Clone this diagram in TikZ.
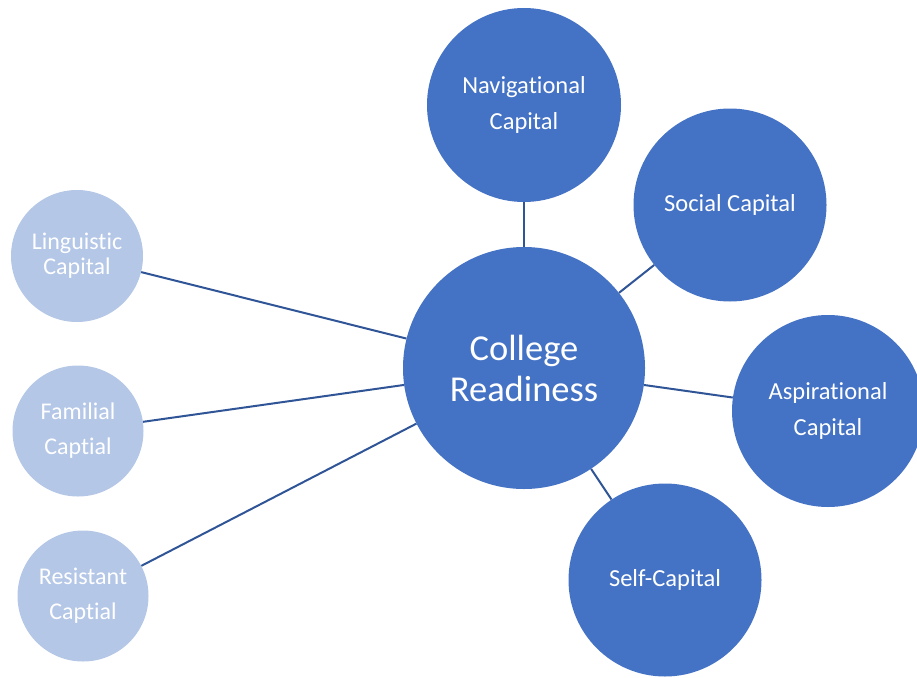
\documentclass[tikz,border=0pt]{standalone}
\usepackage{fontspec}
\setmainfont{Carlito}[Ligatures={NoCommon}]
\definecolor{capdark}{HTML}{4472C4}
\definecolor{caplight}{HTML}{B4C7E7}
\definecolor{linkcol}{HTML}{2F5597}
\begin{document}
\begin{tikzpicture}[x=1pt,y=-1pt,
  bigcap/.style={circle,fill=capdark,draw=none,inner sep=0pt,text=white,align=center,font=\fontsize{24.5}{36}\selectfont},
  smallcap/.style={circle,fill=caplight,draw=none,inner sep=0pt,text=white,align=center,font=\fontsize{24}{35}\selectfont},
  link/.style={draw=linkcol,line width=2pt}]
\clip (0,0) rectangle (917,677);
\useasboundingbox (0,0) rectangle (917,677);
% hub
\node[bigcap,minimum size=242pt,font=\fontsize{36.5}{41}\selectfont] (hub) at (524,368) {College\\Readiness};
% dark circles
\node[bigcap,minimum size=194pt] (nav) at (524,105) {Navigational\\Capital};
\node[bigcap,minimum size=193pt] (soc) at (730,205) {Social Capital};
\node[bigcap,minimum size=192pt] (asp) at (828,411) {Aspirational\\Capital};
\node[bigcap,minimum size=193pt] (self) at (665,580) {Self-Capital};
% light circles
\node[smallcap,minimum size=132pt,font=\fontsize{24}{25}\selectfont] (ling) at (77,256) {Linguistic\\Capital};
\node[smallcap,minimum size=131pt] (fam) at (78,431) {Familial\\Captial};
\node[smallcap,minimum size=131pt] (res) at (83,596) {Resistant\\Captial};
% connectors
\foreach \n in {nav,soc,asp,self,ling,fam,res}
  \draw[link] (hub) -- (\n);
\end{tikzpicture}
\end{document}
